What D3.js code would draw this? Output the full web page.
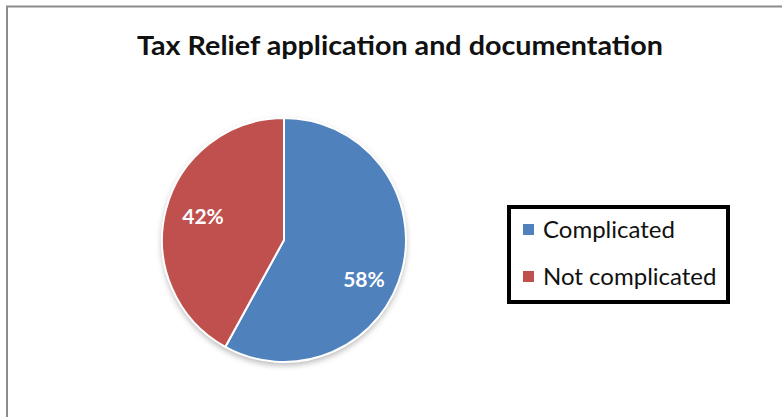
<!DOCTYPE html>
<html>
<head>
<meta charset="utf-8">
<script src="https://cdn.jsdelivr.net/npm/d3@7"></script>
<style>
	body { margin: 0; background: #fff; }
	svg { display: block; font-family: Lato, "Open Sans", sans-serif; }
</style>
</head>
<body>
<svg width="782" height="417"></svg>
<script>
var categories = ["Complicated", "Not complicated"];
var values = [58, 42];
var colors = ["#4F81BD", "#C0504D"];
var title = "Tax Relief application and documentation";

var svg = d3.select("svg");

// chart frame (only top and left edges visible in the picture)
svg.append("path")
	.attr("d", "M7,417 V6.5 H782")
	.attr("fill", "none").attr("stroke", "#8c8c8c").attr("stroke-width", 2);

svg.append("text")
	.attr("x", 400).attr("y", 55)
	.attr("text-anchor", "middle")
	.attr("font-size", 27).attr("font-weight", "bold").attr("fill", "#111")
	.attr("textLength", 526).attr("lengthAdjust", "spacingAndGlyphs")
	.text(title);

var defs = svg.append("defs");
var f = defs.append("filter").attr("id", "shadow")
	.attr("x", "-20%").attr("y", "-20%").attr("width", "140%").attr("height", "150%");
f.append("feDropShadow").attr("dx", 0).attr("dy", 3).attr("stdDeviation", 3)
	.attr("flood-color", "#000").attr("flood-opacity", 0.3);

var cx = 284, cy = 240, r = 122;
var pie = d3.pie().sort(null).value(function(d) { return d; });
var arc = d3.arc().innerRadius(0).outerRadius(r);
var arcs = pie(values);

var g = svg.append("g").attr("transform", "translate(" + cx + "," + cy + ")");
g.append("circle").attr("r", r).attr("fill", "#fff").attr("filter", "url(#shadow)");
g.selectAll("path.slice")
	.data(arcs)
	.enter().append("path").attr("class", "slice")
		.attr("d", arc)
		.attr("fill", function(d, i) { return colors[i]; })
		.attr("stroke", "#fff").attr("stroke-width", 2).attr("stroke-linejoin", "round");

// label nudges to follow the best-fit placement of the original
var nudge = [[2, 20], [-3, -3]];
var labelArc = d3.arc().innerRadius(r * 0.66).outerRadius(r * 0.66);
g.selectAll("text.pct")
	.data(arcs)
	.enter().append("text").attr("class", "pct")
		.attr("x", function(d, i) { return labelArc.centroid(d)[0] + nudge[i][0]; })
		.attr("y", function(d, i) { return labelArc.centroid(d)[1] + nudge[i][1]; })
		.attr("dy", "0.35em")
		.attr("text-anchor", "middle")
		.attr("font-size", 21).attr("font-weight", "bold").attr("fill", "#fff")
		.text(function(d) { return d.data + "%"; });

// legend
var lg = svg.append("g").attr("transform", "translate(507,205)");
lg.append("rect").attr("x", 2).attr("y", 2).attr("width", 219).attr("height", 95)
	.attr("fill", "#fff").attr("stroke", "#000").attr("stroke-width", 4);
var y = d3.scalePoint().domain(categories).range([25, 72]);
var items = lg.selectAll("g.item").data(categories)
	.enter().append("g").attr("class", "item")
		.attr("transform", function(d) { return "translate(16," + y(d) + ")"; });
items.append("rect").attr("x", 0).attr("y", -6).attr("width", 11).attr("height", 11)
	.attr("fill", function(d, i) { return colors[i]; });
items.append("text").attr("x", 20).attr("y", 0).attr("dy", "0.35em")
	.attr("font-size", 24).attr("fill", "#111")
	.text(function(d) { return d; });
</script>
</body>
</html>
